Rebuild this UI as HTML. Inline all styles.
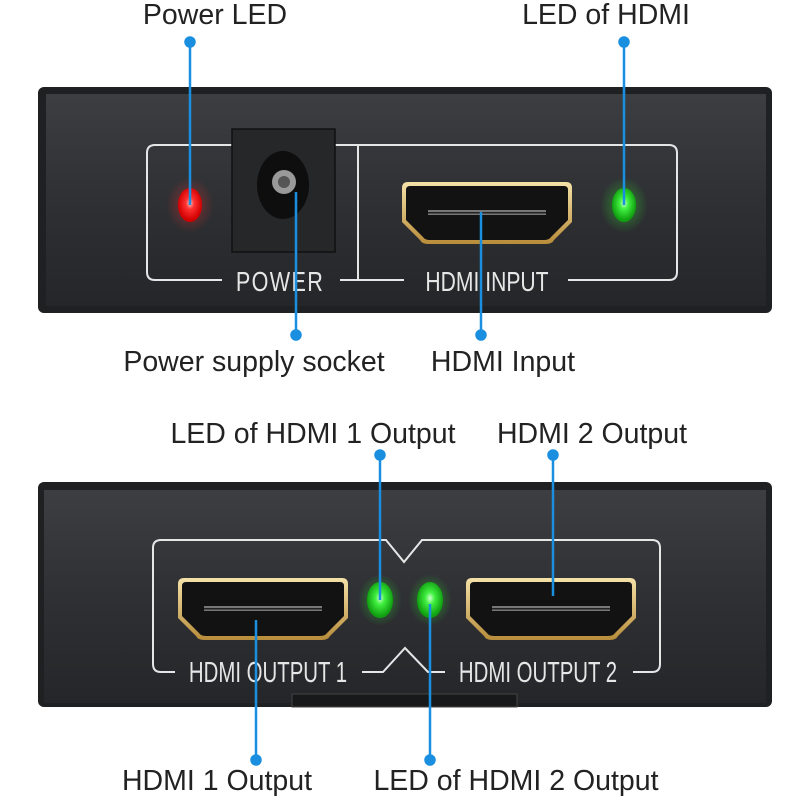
<!DOCTYPE html>
<html><head><meta charset="utf-8"><style>
html,body{margin:0;padding:0;background:#fff}
svg{display:block}
text{font-family:"Liberation Sans",sans-serif}
</style></head><body>
<svg width="800" height="800" viewBox="0 0 800 800" xmlns="http://www.w3.org/2000/svg">
<defs>
<linearGradient id="bd" x1="0" y1="0" x2="0" y2="1">
<stop offset="0" stop-color="#3c3e42"/><stop offset="0.5" stop-color="#2e3033"/><stop offset="1" stop-color="#252629"/></linearGradient>
<linearGradient id="gold" x1="0" y1="0" x2="0" y2="1"><stop offset="0" stop-color="#f5e2a8"/><stop offset="1" stop-color="#b88c3a"/></linearGradient>
<radialGradient id="red" cx="0.5" cy="0.45"><stop offset="0" stop-color="#ffc0c0"/><stop offset="0.35" stop-color="#ff3030"/><stop offset="1" stop-color="#d00000"/></radialGradient>
<radialGradient id="grn" cx="0.5" cy="0.45"><stop offset="0" stop-color="#d0ffd0"/><stop offset="0.35" stop-color="#40f040"/><stop offset="1" stop-color="#10a010"/></radialGradient>
<radialGradient id="glowg"><stop offset="0" stop-color="#30ff30" stop-opacity="0.45"/><stop offset="1" stop-color="#30ff30" stop-opacity="0"/></radialGradient>
<radialGradient id="glowr"><stop offset="0" stop-color="#ff3030" stop-opacity="0.45"/><stop offset="1" stop-color="#ff3030" stop-opacity="0"/></radialGradient>
<g id="port">
<path d="M0,6 Q0,0 6,0 H164 Q170,0 170,6 V40 L152,58 Q150,62 144,62 H26 Q20,62 18,58 L0,40 Z" fill="url(#gold)"/>
<path d="M4,8 Q4,4 8,4 H162 Q166,4 166,8 V38 L149,55 Q147,58 142,58 H28 Q23,58 21,55 L4,38 Z" fill="#121212"/>
<rect x="26" y="28" width="118" height="5" fill="#777"/>
<rect x="26" y="30" width="118" height="1.5" fill="#222"/>
</g>
</defs>

<!-- top device -->
<rect x="38" y="87" width="734" height="226" rx="6" fill="#1f2022"/>
<rect x="46" y="94" width="720" height="212" fill="url(#bd)"/>
<g fill="none" stroke="#e6e6e6" stroke-width="2">
<path d="M222,280 H155 Q147,280 147,272 V153 Q147,145 155,145 H232"/>
<path d="M335,145 H669 Q677,145 677,153 V272 Q677,280 669,280 H568"/>
<path d="M340,280 H404"/>
<path d="M358,145 V280"/>
</g>
<text transform="translate(280,291) scale(0.9,1.15)" font-size="24" fill="#e6e6e6" text-anchor="middle" letter-spacing="1.5">POWER</text>
<text transform="translate(487,291) scale(0.88,1.15)" font-size="24" fill="#e6e6e6" text-anchor="middle">HDMI INPUT</text>
<rect x="232" y="129" width="103" height="123" fill="#262729" stroke="#111" stroke-width="1.5"/>
<ellipse cx="283" cy="185" rx="26" ry="34" fill="#0e0e0f"/>
<circle cx="284" cy="182" r="12" fill="#9a9a9a"/>
<circle cx="284" cy="182" r="6" fill="#555"/>
<ellipse cx="190" cy="205" rx="24" ry="28" fill="url(#glowr)"/>
<ellipse cx="190" cy="205" rx="12" ry="17" fill="url(#red)"/>
<ellipse cx="624" cy="205" rx="24" ry="28" fill="url(#glowg)"/>
<ellipse cx="624" cy="205" rx="12" ry="17" fill="url(#grn)"/>
<use href="#port" x="402" y="182"/>

<!-- bottom device -->
<rect x="38" y="482" width="734" height="225" rx="6" fill="#1f2022"/>
<rect x="44" y="490" width="722" height="213" fill="url(#bd)"/>
<rect x="292" y="694" width="225" height="13" fill="#18191a" stroke="#444" stroke-width="1"/>
<g fill="none" stroke="#e6e6e6" stroke-width="2">
<path d="M175,672 H161 Q153,672 153,664 V548 Q153,540 161,540 H386 L404,562 L422,540 H652 Q660,540 660,548 V664 Q660,672 652,672 H633"/>
<path d="M362,672 H383 L405,648 L428,672 H445"/>
</g>
<text transform="translate(268,682) scale(0.85,1.2)" font-size="24" fill="#e6e6e6" text-anchor="middle">HDMI OUTPUT 1</text>
<text transform="translate(538,682) scale(0.85,1.2)" font-size="24" fill="#e6e6e6" text-anchor="middle">HDMI OUTPUT 2</text>
<use href="#port" x="178" y="578"/>
<use href="#port" x="466" y="578"/>
<ellipse cx="380" cy="600" rx="22" ry="26" fill="url(#glowg)"/>
<ellipse cx="380" cy="600" rx="13" ry="18" fill="url(#grn)"/>
<ellipse cx="430" cy="600" rx="22" ry="26" fill="url(#glowg)"/>
<ellipse cx="430" cy="600" rx="13" ry="18" fill="url(#grn)"/>

<!-- leaders -->
<g stroke="#1a8fe0" stroke-width="2.5" fill="#1a8fe0">
<line x1="190" y1="42" x2="190" y2="205"/><circle cx="190" cy="42" r="4.5"/>
<line x1="624" y1="42" x2="624" y2="205"/><circle cx="624" cy="42" r="4.5"/>
<line x1="296" y1="192" x2="296" y2="335"/><circle cx="296" cy="335" r="4.5"/>
<line x1="481" y1="212" x2="481" y2="335"/><circle cx="481" cy="335" r="4.5"/>
<line x1="380" y1="455" x2="380" y2="600"/><circle cx="380" cy="455" r="4.5"/>
<line x1="553" y1="455" x2="553" y2="596"/><circle cx="553" cy="455" r="4.5"/>
<line x1="256" y1="620" x2="256" y2="760"/><circle cx="256" cy="760" r="4.5"/>
<line x1="430" y1="604" x2="430" y2="760"/><circle cx="430" cy="760" r="4.5"/>
</g>

<g font-size="28.5" fill="#222" text-anchor="middle">
<text x="215" y="24">Power LED</text>
<text x="606" y="24">LED of HDMI</text>
<text x="254" y="371">Power supply socket</text>
<text x="503" y="371">HDMI Input</text>
<text x="313" y="443">LED of HDMI 1 Output</text>
<text x="592" y="443">HDMI 2 Output</text>
<text x="217" y="790">HDMI 1 Output</text>
<text x="516" y="790">LED of HDMI 2 Output</text>
</g>
</svg>
</body></html>
